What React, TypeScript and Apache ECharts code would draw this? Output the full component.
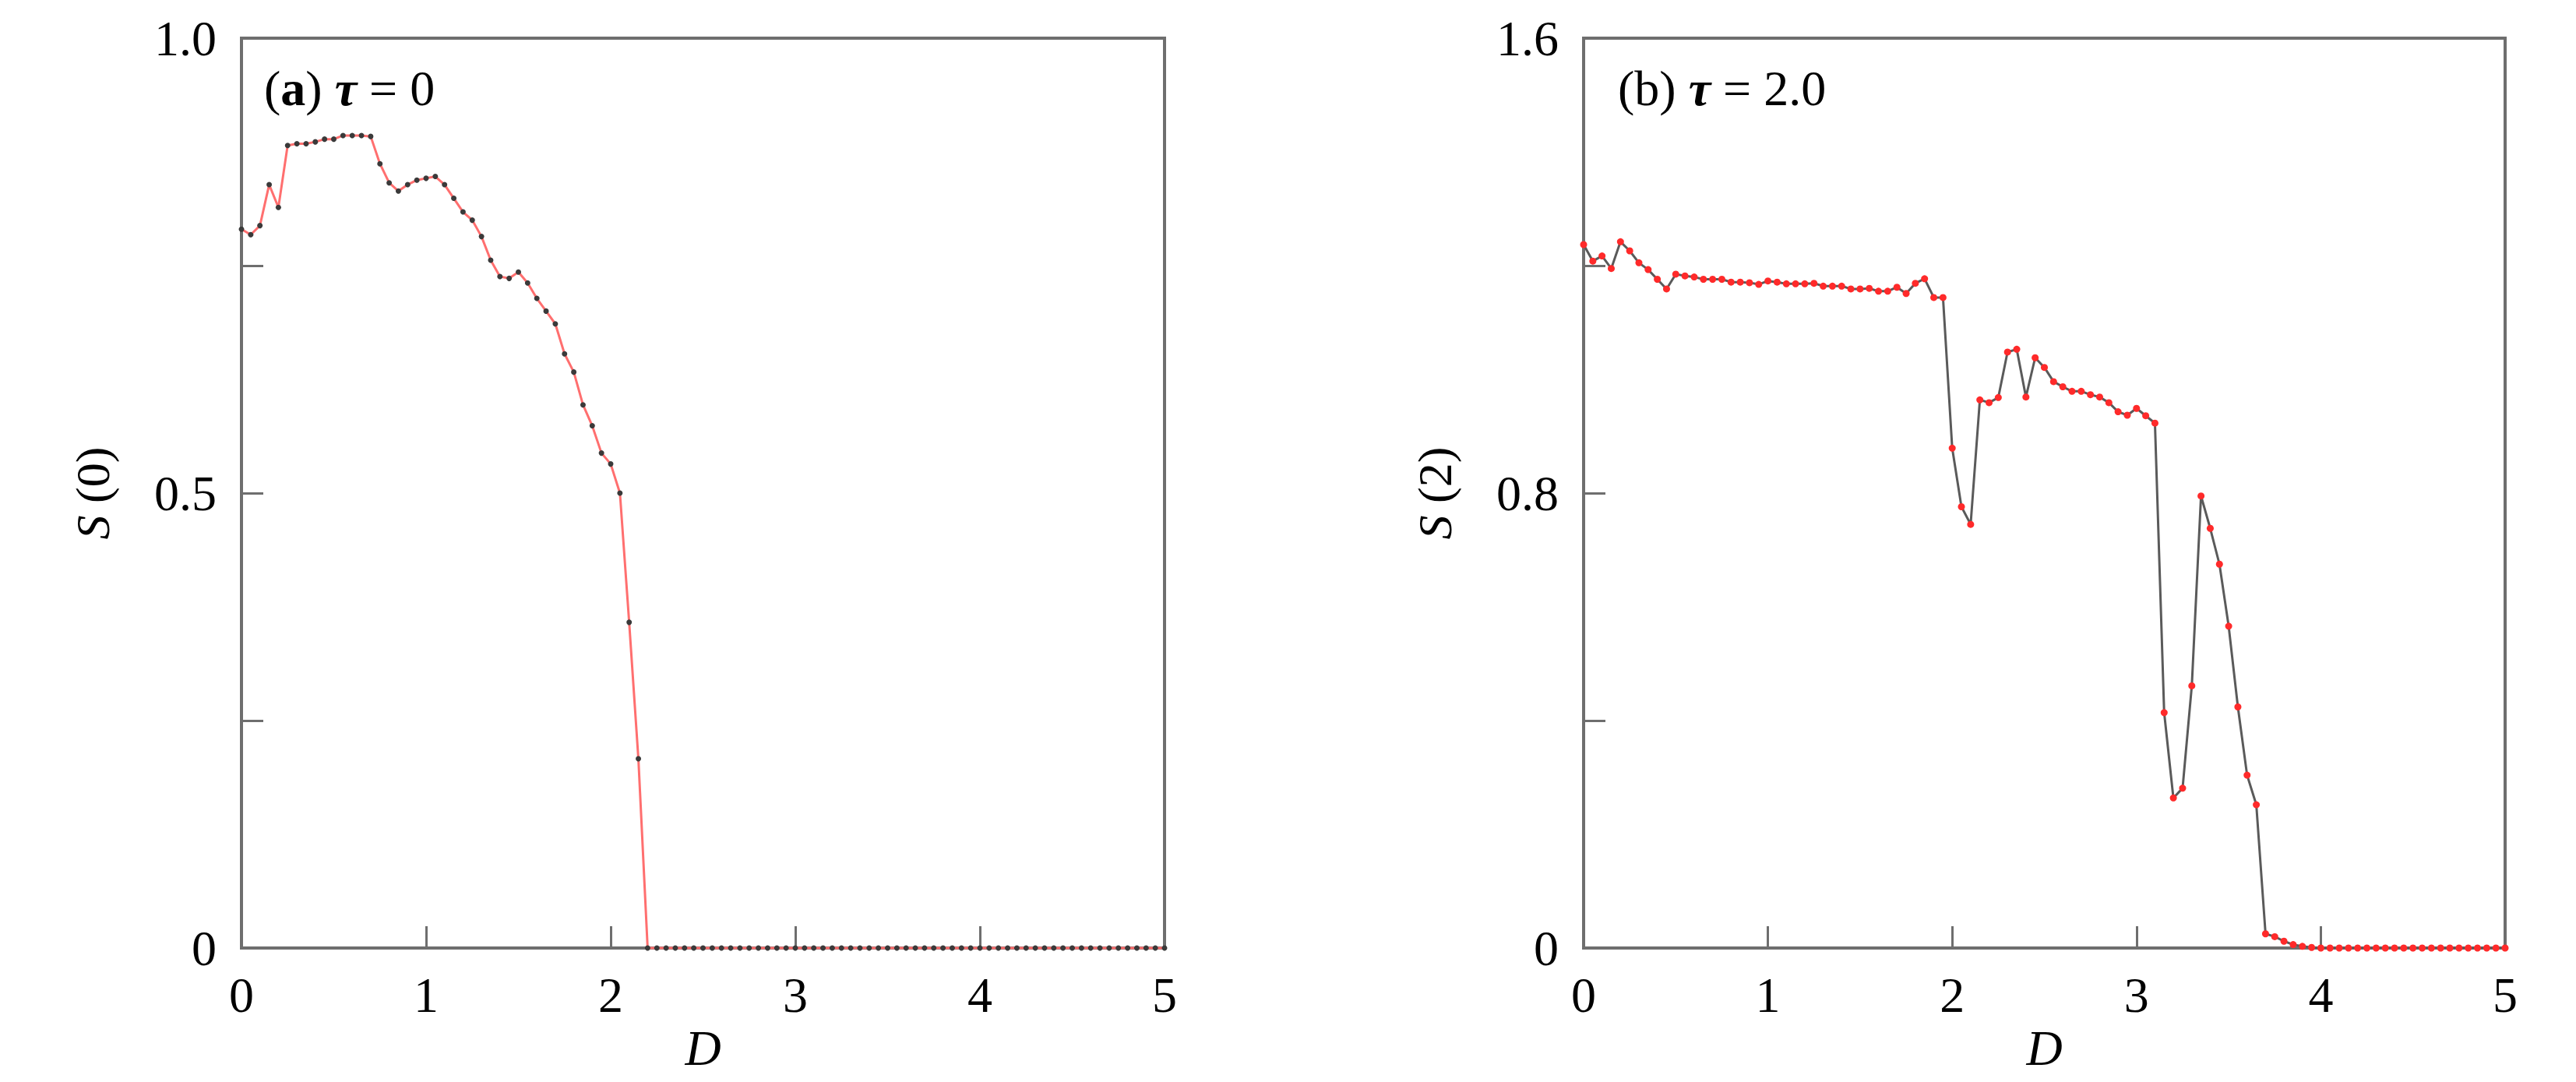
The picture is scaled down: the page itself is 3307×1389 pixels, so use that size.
import React, { useEffect, useRef } from "react";
import * as echarts from "echarts";

const D = [
  0, 0.05, 0.1, 0.15, 0.2, 0.25, 0.3, 0.35, 0.4, 0.45, 0.5, 0.55, 0.6, 0.65, 0.7, 0.75, 0.8, 0.85, 0.9, 0.95,
  1, 1.05, 1.1, 1.15, 1.2, 1.25, 1.3, 1.35, 1.4, 1.45, 1.5, 1.55, 1.6, 1.65, 1.7, 1.75, 1.8, 1.85, 1.9, 1.95,
  2, 2.05, 2.1, 2.15, 2.2, 2.25, 2.3, 2.35, 2.4, 2.45, 2.5, 2.55, 2.6, 2.65, 2.7, 2.75, 2.8, 2.85, 2.9, 2.95,
  3, 3.05, 3.1, 3.15, 3.2, 3.25, 3.3, 3.35, 3.4, 3.45, 3.5, 3.55, 3.6, 3.65, 3.7, 3.75, 3.8, 3.85, 3.9, 3.95,
  4, 4.05, 4.1, 4.15, 4.2, 4.25, 4.3, 4.35, 4.4, 4.45, 4.5, 4.55, 4.6, 4.65, 4.7, 4.75, 4.8, 4.85, 4.9, 4.95, 5,
];

// panel (a): tau = 0
const S0 = [
  0.790, 0.784, 0.794, 0.839, 0.814, 0.882, 0.884, 0.884, 0.886, 0.889, 0.889, 0.893, 0.893, 0.893, 0.892, 0.862, 0.841, 0.832, 0.839, 0.844,
  0.846, 0.848, 0.839, 0.824, 0.809, 0.800, 0.782, 0.756, 0.738, 0.736, 0.743, 0.731, 0.714, 0.700, 0.686, 0.653, 0.633, 0.597, 0.574, 0.544,
  0.532, 0.500, 0.358, 0.208, 0, 0, 0, 0, 0, 0, 0, 0, 0, 0, 0, 0, 0, 0, 0, 0,
  0, 0, 0, 0, 0, 0, 0, 0, 0, 0, 0, 0, 0, 0, 0, 0, 0, 0, 0, 0,
  0, 0, 0, 0, 0, 0, 0, 0, 0, 0, 0, 0, 0, 0, 0, 0, 0, 0, 0, 0, 0,
];

// panel (b): tau = 2.0
const S2 = [
  1.237, 1.208, 1.217, 1.195, 1.242, 1.226, 1.205, 1.193, 1.176, 1.159, 1.185, 1.182, 1.180, 1.176, 1.176, 1.176, 1.171, 1.171, 1.170, 1.167,
  1.173, 1.171, 1.168, 1.168, 1.168, 1.169, 1.164, 1.164, 1.164, 1.159, 1.159, 1.160, 1.155, 1.155, 1.162, 1.151, 1.169, 1.177, 1.144, 1.144,
  0.879, 0.776, 0.745, 0.964, 0.959, 0.968, 1.048, 1.053, 0.969, 1.038, 1.021, 0.996, 0.987, 0.979, 0.979, 0.973, 0.969, 0.959, 0.943, 0.937,
  0.949, 0.936, 0.923, 0.414, 0.264, 0.281, 0.461, 0.795, 0.738, 0.675, 0.566, 0.424, 0.304, 0.252, 0.025, 0.020, 0.012, 0.006, 0.003, 0.001,
  0, 0, 0, 0, 0, 0, 0, 0, 0, 0, 0, 0, 0, 0, 0, 0, 0, 0, 0, 0, 0,
];

const X_TICKS = [0, 1, 2, 3, 4, 5];
const Y0_LABELS = ["0", "0.5", "1.0"];
const Y2_LABELS = ["0", "0.8", "1.6"];

const FONT = "Liberation Serif";
const AXIS_COLOR = "#6e6e6e";

function near(a: number, b: number) {
  return Math.abs(a - b) < 1e-6;
}

export default function App() {
  const ref = useRef<HTMLDivElement>(null);

  useEffect(() => {
    document.body.style.margin = "0";
    if (!ref.current) return;
    const chart = echarts.init(ref.current, null, { renderer: "svg" });

    const axisCommon = {
      axisLine: { show: true, lineStyle: { color: AXIS_COLOR, width: 4 } },
      axisTick: { show: true, inside: true, length: 28, lineStyle: { color: AXIS_COLOR, width: 3 } },
      splitLine: { show: false },
    };

    const xAxis = (gridIndex: number) => ({
      type: "value",
      gridIndex,
      min: X_TICKS[0],
      max: X_TICKS[X_TICKS.length - 1],
      interval: 1,
      ...axisCommon,
      axisLabel: {
        show: true,
        margin: 28,
        color: "#000",
        fontFamily: FONT,
        fontWeight: "normal",
        fontSize: 64,
        formatter: (v: number) => String(Math.round(v)),
      },
      name: "D",
      nameLocation: "middle",
      nameGap: 90,
      nameTextStyle: { fontFamily: FONT, fontSize: 64, fontStyle: "italic", fontWeight: "normal", color: "#000" },
    });

    const yAxis = (gridIndex: number, max: number, interval: number, labels: string[], name: string) => ({
      type: "value",
      gridIndex,
      min: 0,
      max,
      interval,
      ...axisCommon,
      axisLabel: {
        show: true,
        margin: 32,
        color: "#000",
        fontFamily: FONT,
        fontWeight: "normal",
        fontSize: 64,
        formatter: (v: number) => {
          if (near(v, 0)) return labels[0];
          if (near(v, max / 2)) return labels[1];
          if (near(v, max)) return labels[2];
          return "";
        },
      },
      name,
      nameLocation: "middle",
      nameRotate: 90,
      nameGap: 160,
      nameTextStyle: {
        fontFamily: FONT,
        fontSize: 62,
        fontWeight: "normal",
        color: "#000",
        rich: {
          s: { fontFamily: FONT, fontSize: 62, fontStyle: "italic", fontWeight: "normal", color: "#000" },
          n: { fontFamily: FONT, fontSize: 62, fontWeight: "normal", color: "#000" },
        },
      },
    });

    const titleRich = {
      p: { fontFamily: FONT, fontSize: 64, fontWeight: "normal", color: "#000" },
      b: { fontFamily: FONT, fontSize: 64, fontWeight: "bold", color: "#000" },
      t: { fontFamily: FONT, fontSize: 64, fontWeight: "bold", fontStyle: "italic", color: "#000" },
    };

    chart.setOption({
      animation: false,
      backgroundColor: "#fff",
      title: [
        {
          text: "{p|(}{b|a}{p|) }{t|τ}{p| = 0}",
          left: 334,
          top: 76,
          textStyle: { fontWeight: "normal", fontFamily: FONT, rich: titleRich },
        },
        {
          text: "{p|(b) }{t|τ}{p| = 2.0}",
          left: 2072,
          top: 76,
          textStyle: { fontWeight: "normal", fontFamily: FONT, rich: titleRich },
        },
      ],
      grid: [
        { left: 310, top: 49, width: 1185, height: 1168, show: true, borderColor: AXIS_COLOR, borderWidth: 4, backgroundColor: "transparent", containLabel: false },
        { left: 2033, top: 49, width: 1183, height: 1168, show: true, borderColor: AXIS_COLOR, borderWidth: 4, backgroundColor: "transparent", containLabel: false },
      ],
      xAxis: [xAxis(0), xAxis(1)],
      yAxis: [
        yAxis(0, 1.0, 0.25, Y0_LABELS, "{s|S} {n|(0)}"),
        yAxis(1, 1.6, 0.4, Y2_LABELS, "{s|S} {n|(2)}"),
      ],
      series: [
        {
          type: "line",
          xAxisIndex: 0,
          yAxisIndex: 0,
          data: D.map((d, i) => [d, S0[i]]),
          lineStyle: { color: "#ff6f6f", width: 3 },
          symbol: "circle",
          symbolSize: 7,
          itemStyle: { color: "#3a3a3a" },
          clip: false,
          z: 5,
        },
        {
          type: "line",
          xAxisIndex: 1,
          yAxisIndex: 1,
          data: D.map((d, i) => [d, S2[i]]),
          lineStyle: { color: "#5a5a5a", width: 3 },
          symbol: "circle",
          symbolSize: 9,
          itemStyle: { color: "#ff2a2a" },
          clip: false,
          z: 5,
        },
      ],
    });

    return () => chart.dispose();
  }, []);

  return <div ref={ref} style={{ width: 3307, height: 1389 }} />;
}
